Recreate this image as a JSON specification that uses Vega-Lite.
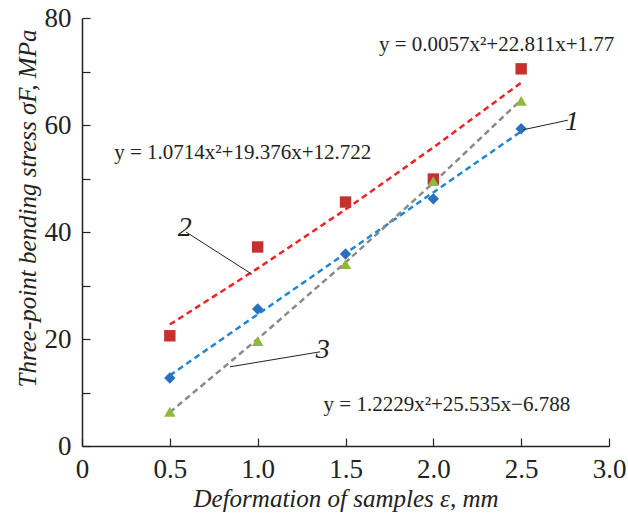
{
  "$schema": "https://vega.github.io/schema/vega-lite/v6.json",
  "width": 527,
  "height": 428,
  "autosize": {"type": "none"},
  "padding": {"left": 82, "top": 18, "right": 19, "bottom": 72},
  "background": "white",
  "config": {
    "view": {"stroke": null},
    "font": "Liberation Serif",
    "axis": {
      "domainColor": "#222",
      "domainWidth": 1.5,
      "tickColor": "#222",
      "tickWidth": 1.2,
      "grid": false,
      "labelFont": "Liberation Serif",
      "labelFontSize": 27,
      "labelColor": "#222",
      "titleFont": "Liberation Serif",
      "titleFontSize": 25,
      "titleFontStyle": "italic",
      "titleFontWeight": "normal",
      "titleColor": "#222"
    }
  },
  "datasets": {
    "points": [
      {"series": "1", "x": 0.5, "y": 12.7},
      {"series": "1", "x": 1.0, "y": 25.6},
      {"series": "1", "x": 1.5, "y": 35.9},
      {"series": "1", "x": 2.0, "y": 46.2},
      {"series": "1", "x": 2.5, "y": 59.3},
      {"series": "2", "x": 0.5, "y": 20.6},
      {"series": "2", "x": 1.0, "y": 37.2},
      {"series": "2", "x": 1.5, "y": 45.6},
      {"series": "2", "x": 2.0, "y": 49.9},
      {"series": "2", "x": 2.5, "y": 70.5},
      {"series": "3", "x": 0.5, "y": 6.4},
      {"series": "3", "x": 1.0, "y": 19.6},
      {"series": "3", "x": 1.5, "y": 34.0},
      {"series": "3", "x": 2.0, "y": 49.5},
      {"series": "3", "x": 2.5, "y": 64.5}
    ],
    "trends": [
      {"series": "1", "x": 0.5, "y": 13.2},
      {"series": "1", "x": 1.0, "y": 24.6},
      {"series": "1", "x": 1.5, "y": 36.0},
      {"series": "1", "x": 2.0, "y": 47.4},
      {"series": "1", "x": 2.5, "y": 58.8},
      {"series": "2", "x": 0.5, "y": 22.7},
      {"series": "2", "x": 1.0, "y": 33.2},
      {"series": "2", "x": 1.5, "y": 44.2},
      {"series": "2", "x": 2.0, "y": 55.8},
      {"series": "2", "x": 2.5, "y": 67.9},
      {"series": "3", "x": 0.5, "y": 6.3},
      {"series": "3", "x": 1.0, "y": 20.0},
      {"series": "3", "x": 1.5, "y": 34.3},
      {"series": "3", "x": 2.0, "y": 49.2},
      {"series": "3", "x": 2.5, "y": 64.7}
    ],
    "leaders": [
      {"label": "1", "x": 2.51, "y": 59.1, "x2": 2.766, "y2": 60.9, "lx": 2.79, "ly": 60.6, "align": "left"},
      {"label": "2", "x": 0.592, "y": 40.0, "x2": 0.968, "y2": 32.1, "lx": 0.585, "ly": 40.8, "align": "right"},
      {"label": "3", "x": 0.842, "y": 14.8, "x2": 1.355, "y2": 17.6, "lx": 1.37, "ly": 17.9, "align": "left"}
    ],
    "equations": [
      {"text": "y = 0.0057x²+22.811x+1.77", "x": 2.36, "y": 75.0},
      {"text": "y = 1.0714x²+19.376x+12.722", "x": 0.915, "y": 54.8},
      {"text": "y = 1.2229x²+25.535x−6.788", "x": 2.077, "y": 7.66}
    ]
  },
  "encoding": {
    "x": {
      "field": "x",
      "type": "quantitative",
      "scale": {"domain": [0, 3], "nice": false, "zero": true},
      "axis": {
        "title": "Deformation of samples ε, mm",
        "values": [0, 0.5, 1, 1.5, 2, 2.5, 3],
        "format": ".1f",
        "labelExpr": "datum.value == 0 ? '0' : datum.label",
        "tickSize": -8,
        "labelPadding": 18,
        "titlePadding": 4,
        "labelFlush": false
      }
    },
    "y": {
      "field": "y",
      "type": "quantitative",
      "scale": {"domain": [0, 80], "nice": false},
      "axis": {
        "title": "Three-point bending stress σF, MPa",
        "values": [0, 10, 20, 30, 40, 50, 60, 70, 80],
        "labelExpr": "datum.value % 20 == 0 ? datum.label : ''",
        "tickSize": -8,
        "labelPadding": 19,
        "titlePadding": 4,
        "titleY": 190,
        "labelFlush": false
      }
    }
  },
  "layer": [
    {
      "data": {"name": "trends"},
      "mark": {"type": "line", "strokeDash": [6, 4], "strokeWidth": 2.5},
      "encoding": {
        "color": {
          "field": "series",
          "type": "nominal",
          "scale": {"domain": ["1", "2", "3"], "range": ["#1f86d6", "#f02424", "#8a8a8a"]},
          "legend": null
        },
        "detail": {"field": "series"}
      }
    },
    {
      "data": {"name": "points"},
      "mark": {"type": "point", "filled": true, "opacity": 1, "size": 130},
      "encoding": {
        "shape": {
          "field": "series",
          "type": "nominal",
          "scale": {"domain": ["1", "2", "3"], "range": ["diamond", "square", "triangle-up"]},
          "legend": null
        },
        "fill": {
          "field": "series",
          "type": "nominal",
          "scale": {"domain": ["1", "2", "3"], "range": ["#2b6fbf", "#c4312f", "#8fb83e"]},
          "legend": null
        }
      }
    },
    {
      "data": {"name": "leaders"},
      "mark": {"type": "rule", "color": "#222", "strokeWidth": 1},
      "encoding": {
        "x2": {"field": "x2"},
        "y2": {"field": "y2"}
      }
    },
    {
      "data": {"name": "leaders"},
      "mark": {"type": "text", "fontSize": 28, "fontStyle": "italic", "font": "Liberation Serif", "baseline": "middle", "color": "#222"},
      "encoding": {
        "x": {"field": "lx", "type": "quantitative"},
        "y": {"field": "ly", "type": "quantitative"},
        "text": {"field": "label"},
        "align": {"field": "align", "type": "nominal", "scale": null}
      }
    },
    {
      "data": {"name": "equations"},
      "mark": {"type": "text", "fontSize": 21, "font": "Liberation Serif", "baseline": "middle", "align": "center", "color": "#222"},
      "encoding": {
        "text": {"field": "text"}
      }
    }
  ]
}
